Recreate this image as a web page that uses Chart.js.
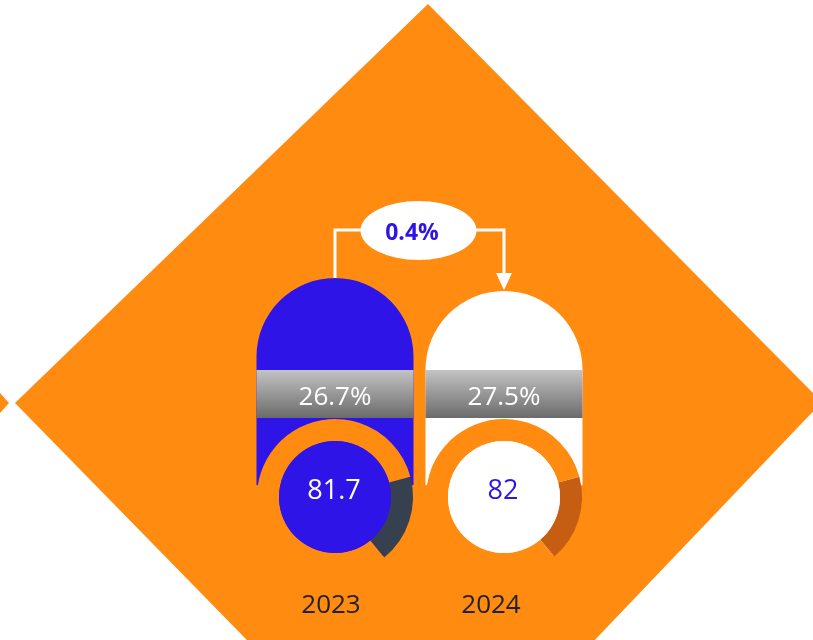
<!DOCTYPE html>
<html>
<head>
<meta charset="utf-8">
<title>2023 / 2024</title>
<script src="https://cdn.jsdelivr.net/npm/chart.js@4.4.1/dist/chart.umd.min.js"></script>
<style>
  html, body { margin: 0; padding: 0; background: #fff; }
  #wrap { position: relative; width: 813px; height: 640px; overflow: hidden; }
  #wrap canvas { position: absolute; }
</style>
</head>
<body>
<div id="wrap">
  <canvas id="backdrop" width="813" height="640" style="left:0;top:0"></canvas>
  <canvas id="card0" width="170" height="310"></canvas>
  <canvas id="card1" width="170" height="310"></canvas>
</div>
<script>
const years = ['2023', '2024'];
const shareRates = [26.7, 27.5];
const scores = [81.7, 82];
const scoreMax = 100;

const ORANGE = '#ff8b10';
const BLUE = '#2f14e8';
const FONT = '"Open Sans", "Liberation Sans", sans-serif';

// look of each capsule
const cardStyles = [
  { cx: 335, pillTop: 278, fill: BLUE, text: '#ffffff', rest: '#36404f', yearX: 331 },
  { cx: 504, pillTop: 291, fill: '#ffffff', text: BLUE, rest: '#c55e12', yearX: 491 }
];
const CARD_W = 170, CARD_H = 310, CARD_TOP = 270;
const RING_Y = 497, RING_R = 78, HOLE_R = 56, PILL_HW = 78.5;
const BAND_TOP = 370, BAND_H = 48;

function drawBackdrop() {
  const ctx = document.getElementById('backdrop').getContext('2d');
  ctx.fillStyle = ORANGE;
  ctx.beginPath();
  ctx.moveTo(428, 4);
  ctx.lineTo(822, 402);
  ctx.lineTo(423, 820);
  ctx.lineTo(15, 403);
  ctx.closePath();
  ctx.fill();
  // tip of the next tile on the left
  ctx.beginPath();
  ctx.moveTo(0, 393);
  ctx.lineTo(9, 403);
  ctx.lineTo(0, 413);
  ctx.closePath();
  ctx.fill();

  // connector 2023 -> 2024
  const a = cardStyles[0], b = cardStyles[1];
  ctx.strokeStyle = '#fff';
  ctx.lineWidth = 3;
  ctx.beginPath();
  ctx.moveTo(a.cx, a.pillTop + 2);
  ctx.lineTo(a.cx, 230);
  ctx.lineTo(b.cx, 230);
  ctx.lineTo(b.cx, 275);
  ctx.stroke();
  ctx.fillStyle = '#fff';
  ctx.beginPath();
  ctx.moveTo(b.cx - 8, 273);
  ctx.lineTo(b.cx + 8, 273);
  ctx.lineTo(b.cx, 290);
  ctx.closePath();
  ctx.fill();

  ctx.beginPath();
  ctx.ellipse(418.5, 230.5, 58, 29.5, 0, 0, Math.PI * 2);
  ctx.fill();
  const growth = (scores[1] - scores[0]) / scores[0] * 100;
  ctx.fillStyle = BLUE;
  ctx.font = 'bold 23px ' + FONT;
  ctx.textAlign = 'center';
  ctx.fillText(growth.toFixed(1) + '%', 412, 240);

  ctx.fillStyle = '#222';
  ctx.font = '26px ' + FONT;
  years.forEach((y, i) => ctx.fillText(y, cardStyles[i].yearX, 613));
}

function makeCardPlugin(i) {
  const s = cardStyles[i];
  return {
    id: 'card' + i,
    beforeDraw(chart) {
      const ctx = chart.ctx;
      const cx = CARD_W / 2;
      const top = s.pillTop - CARD_TOP;
      const ringY = RING_Y - CARD_TOP;
      ctx.save();
      // capsule body; its lower end sits under the ring
      ctx.fillStyle = s.fill;
      ctx.beginPath();
      ctx.arc(cx, top + PILL_HW, PILL_HW, Math.PI, 0);
      ctx.lineTo(cx + PILL_HW, ringY - 12);
      ctx.arc(cx, ringY, RING_R - 1.5, -0.15, Math.PI + 0.15);
      ctx.lineTo(cx - PILL_HW, ringY - 12);
      ctx.closePath();
      ctx.fill();
      // grey band with the share
      const bt = BAND_TOP - CARD_TOP;
      const g = ctx.createLinearGradient(0, bt, 0, bt + BAND_H);
      g.addColorStop(0, '#c3c3c3');
      g.addColorStop(1, '#6b6b6b');
      ctx.fillStyle = g;
      ctx.fillRect(cx - PILL_HW, bt, PILL_HW * 2, BAND_H);
      ctx.fillStyle = '#fff';
      ctx.font = '26px ' + FONT;
      ctx.textAlign = 'center';
      ctx.fillText(shareRates[i].toFixed(1) + '%', cx, 405 - CARD_TOP);
      ctx.restore();
    },
    afterDatasetsDraw(chart) {
      const ctx = chart.ctx;
      const arc = chart.getDatasetMeta(0).data[0];
      ctx.save();
      ctx.fillStyle = s.fill;
      ctx.beginPath();
      ctx.arc(arc.x, arc.y, arc.innerRadius, 0, Math.PI * 2);
      ctx.fill();
      ctx.fillStyle = s.text;
      ctx.font = '27px ' + FONT;
      ctx.textAlign = 'center';
      ctx.fillText(String(scores[i]), arc.x - 1, 499 - CARD_TOP);
      ctx.restore();
    }
  };
}

function drawCard(i) {
  const s = cardStyles[i];
  const canvas = document.getElementById('card' + i);
  canvas.style.left = (s.cx - CARD_W / 2) + 'px';
  canvas.style.top = CARD_TOP + 'px';
  const ringY = RING_Y - CARD_TOP;
  const side = CARD_W / 2 - RING_R;

  new Chart(canvas, {
    type: 'doughnut',
    data: {
      labels: ['gap', years[i]],
      datasets: [{
        data: [scoreMax - scores[i], scores[i]],
        backgroundColor: [s.rest, ORANGE],
        borderWidth: 0
      }]
    },
    options: {
      responsive: false,
      animation: false,
      events: [],
      rotation: 75,
      cutout: HOLE_R,
      layout: {
        padding: {
          left: side,
          right: side,
          top: ringY - RING_R,
          bottom: CARD_H - ringY - RING_R
        }
      },
      plugins: {
        legend: { display: false },
        tooltip: { enabled: false }
      }
    },
    plugins: [makeCardPlugin(i)]
  });
}

drawBackdrop();
years.forEach((y, i) => drawCard(i));
</script>
</body>
</html>
